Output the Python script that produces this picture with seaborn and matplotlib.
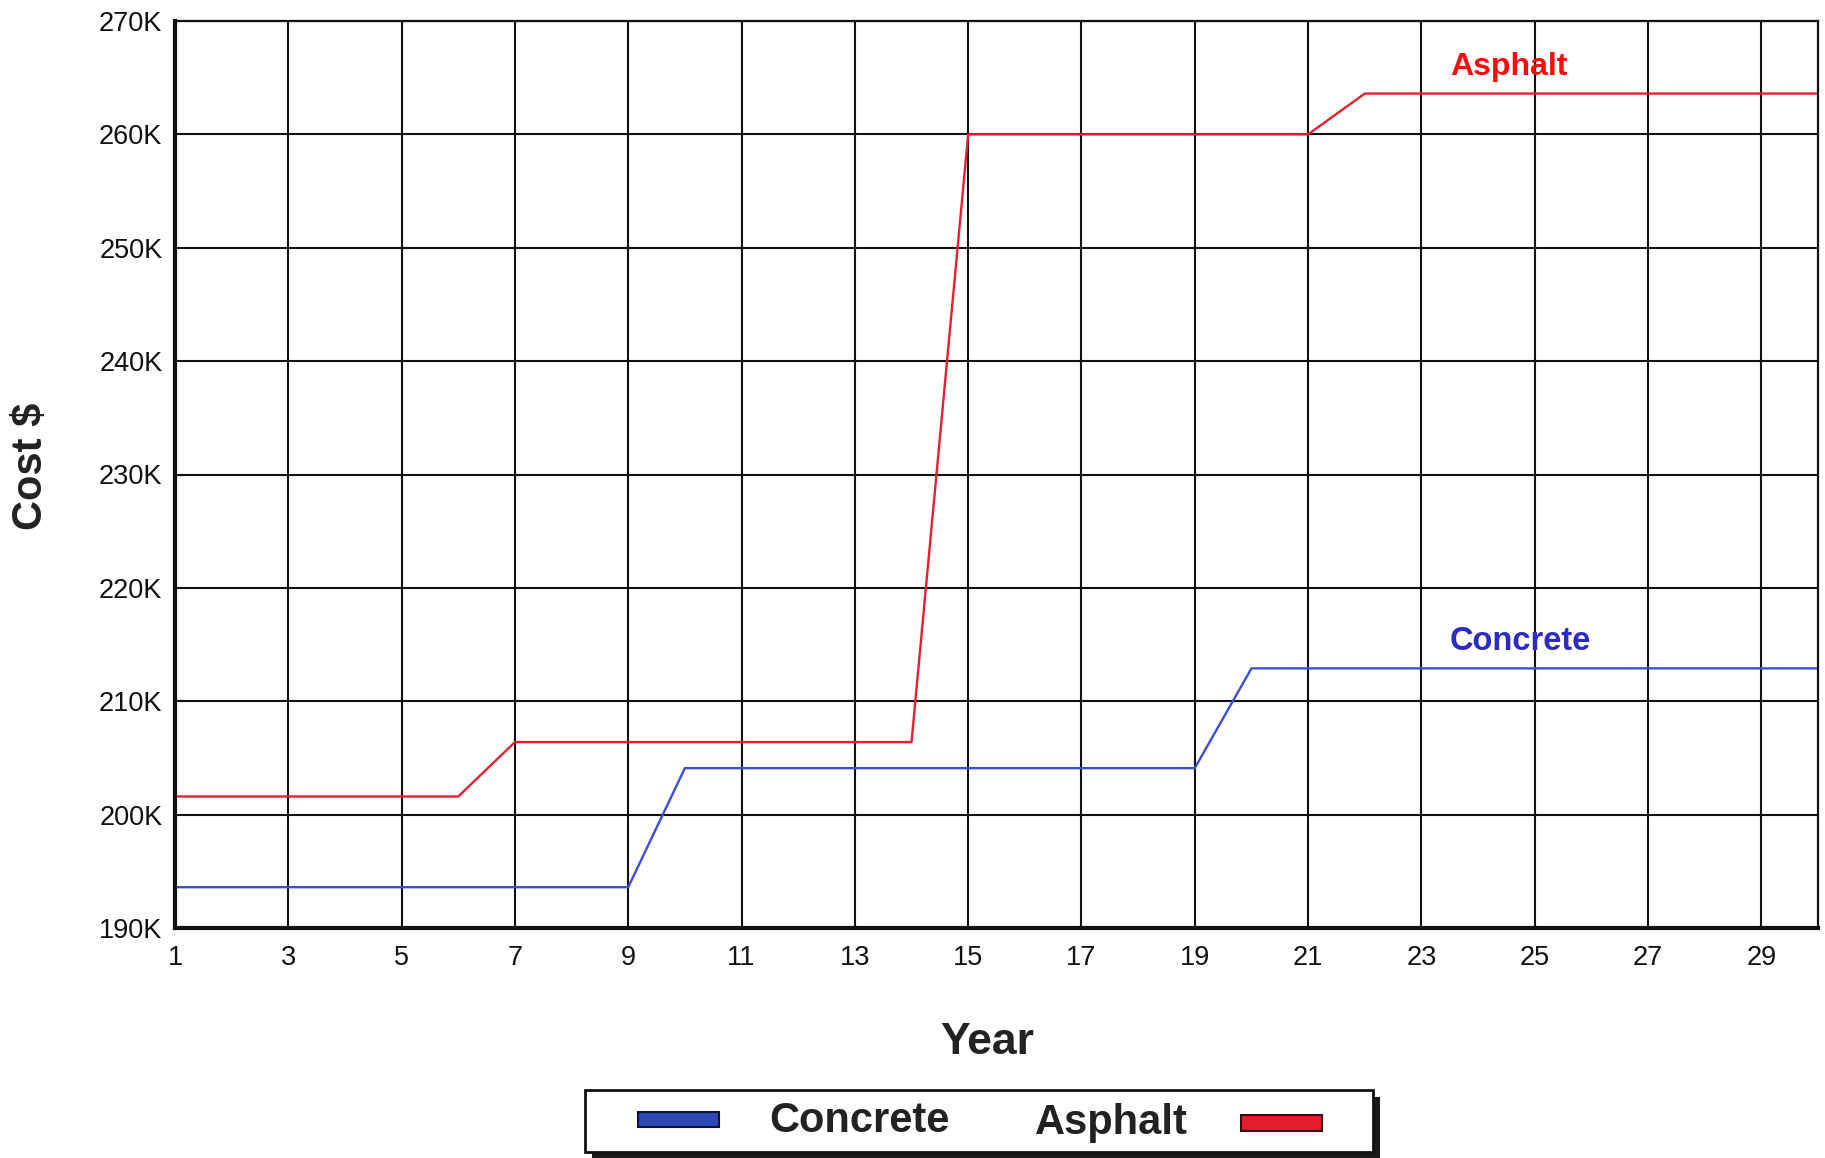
import matplotlib
matplotlib.use("Agg")
import matplotlib.pyplot as plt
from matplotlib.patches import Rectangle
import numpy as np
import pandas as pd
import seaborn as sns

# Cumulative cost by year for the two pavement types
years = list(range(1, 31))
concrete_cost = [193600] * 9 + [204100] * 10 + [212900] * 11
asphalt_cost = [201600] * 6 + [206400] * 8 + [260000] * 7 + [263600] * 9

y_ticks = [190000, 200000, 210000, 220000, 230000, 240000, 250000, 260000, 270000]
y_tick_labels = ["190K", "200K", "210K", "220K", "230K", "240K", "250K", "260K", "270K"]
x_ticks = list(range(1, 30, 2))

series_names = ["Concrete", "Asphalt"]
line_colors = {"Concrete": "#3b4fd6", "Asphalt": "#e8202e"}

df = pd.DataFrame({
    "Year": years * 2,
    "Cost": concrete_cost + asphalt_cost,
    "Series": ["Concrete"] * len(years) + ["Asphalt"] * len(years),
})

sns.set_style("white")
plt.rcParams["font.family"] = ["Liberation Sans", "DejaVu Sans"]

W, H = 1825, 1158
fig = plt.figure(figsize=(W / 100, H / 100), dpi=100)
left, right, top, bottom = 175, 1818, 21, 928
ax = fig.add_axes([left / W, 1 - bottom / H, (right - left) / W, (bottom - top) / H])

# grid first so the cost lines sit on top
ax.set_xlim(1, 30)
ax.set_ylim(190000, 270000)
ax.set_xticks(x_ticks)
ax.set_xticklabels([str(v) for v in x_ticks])
ax.set_yticks(y_ticks)
ax.set_yticklabels(y_tick_labels)
ax.grid(True, which="major", axis="both", color="#111111", linewidth=1.5)
ax.set_axisbelow(True)

sns.lineplot(data=df, x="Year", y="Cost", hue="Series", hue_order=series_names,
             palette=line_colors, linewidth=1.7, legend=False, ax=ax)

ax.set_xlim(1, 30)
ax.set_ylim(190000, 270000)
ax.tick_params(axis="both", which="both", length=0, labelsize=19.5, colors="#111111")
ax.tick_params(axis="x", pad=12)
ax.tick_params(axis="y", pad=9)

for side in ["left", "bottom"]:
    ax.spines[side].set_linewidth(3.0)
    ax.spines[side].set_color("#111111")
for side in ["top", "right"]:
    ax.spines[side].set_linewidth(1.6)
    ax.spines[side].set_color("#111111")
    ax.spines[side].set_visible(True)

ax.set_xlabel("")
ax.set_ylabel("")
fig.text(987 / W, 1 - 1042 / H, "Year", ha="center", va="center",
         fontsize=32, fontweight="bold", color="#222222")
fig.text(31 / W, 1 - 466 / H, "Cost $", ha="center", va="center", rotation=90,
         fontsize=30, fontweight="bold", color="#222222")

# series captions inside the plot
ax.text(23.5, 265900, "Asphalt", color="#ff0a0a", fontsize=23, fontweight="bold",
        ha="left", va="center")
ax.text(23.5, 215300, "Concrete", color="#2c2cc4", fontsize=23.5, fontweight="bold",
        ha="left", va="center")

# legend box with drop shadow
def fig_rect(x0, y0, x1, y1, **kw):
    r = Rectangle((x0 / W, 1 - y1 / H), (x1 - x0) / W, (y1 - y0) / H,
                  transform=fig.transFigure, **kw)
    fig.add_artist(r)

fig_rect(592, 1097, 1380, 1158, facecolor="#1a1a1a", edgecolor="none", zorder=5)
fig_rect(585, 1090, 1373, 1152, facecolor="white", edgecolor="#111111", linewidth=2.0, zorder=6)
fig_rect(638, 1112, 719, 1127, facecolor="#2e47b4", edgecolor="#111133", linewidth=1.5, zorder=7)
fig_rect(1241, 1115, 1322, 1131, facecolor="#e81a2e", edgecolor="#331111", linewidth=1.5, zorder=7)
fig.text(859 / W, 1 - 1121 / H, "Concrete", ha="center", va="center",
         fontsize=30, fontweight="bold", color="#222222", zorder=8)
fig.text(1111 / W, 1 - 1123 / H, "Asphalt", ha="center", va="center",
         fontsize=30, fontweight="bold", color="#222222", zorder=8)

fig.savefig("out.png", dpi=100, facecolor="white")
